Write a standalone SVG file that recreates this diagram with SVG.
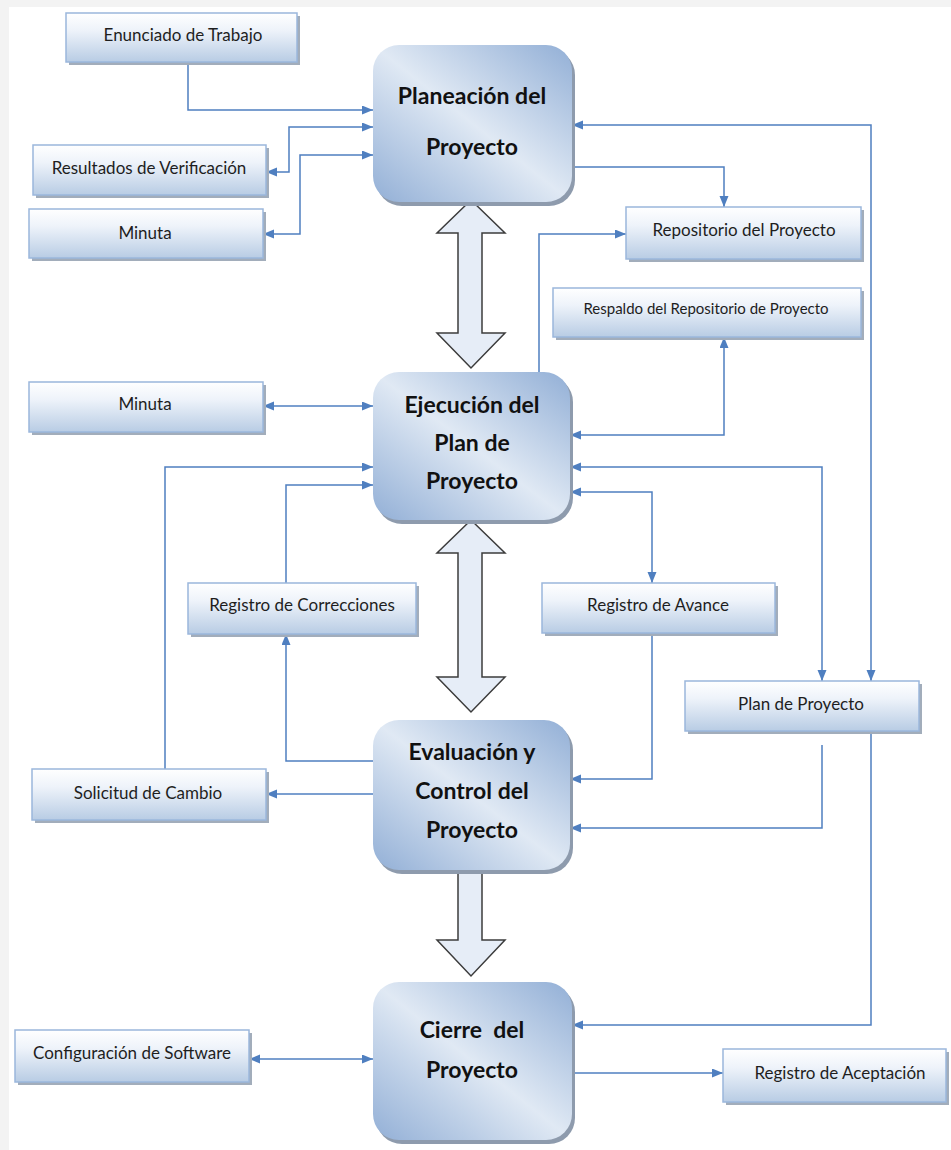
<svg xmlns="http://www.w3.org/2000/svg" width="951" height="1150" viewBox="0 0 951 1150">
<defs>
<linearGradient id="gSmall" x1="0" y1="0" x2="0" y2="1">
<stop offset="0" stop-color="#ffffff"/>
<stop offset="0.35" stop-color="#eef3fa"/>
<stop offset="1" stop-color="#b8cce4"/>
</linearGradient>
<linearGradient id="gBig" x1="1" y1="0" x2="0" y2="1">
<stop offset="0" stop-color="#92afd6"/>
<stop offset="0.5" stop-color="#e0e9f4"/>
<stop offset="1" stop-color="#92afd6"/>
</linearGradient>
<marker id="ar" markerUnits="userSpaceOnUse" markerWidth="12" markerHeight="10" refX="11" refY="4.5" orient="auto-start-reverse">
<path d="M0,0 L11,4.5 L0,9 z" fill="#4f7fc0"/>
</marker>
</defs>
<style>
.sm{fill:url(#gSmall);stroke:#9bb7dc;stroke-width:1.5}
.sh{fill:#a2adbb}
.big{fill:url(#gBig);stroke:none}
.bsh{fill:#8e9bad}
.st{font-family:Lato,"Open Sans",sans-serif;font-size:17px;fill:#1e1e1e;text-anchor:middle}
.bt{font-family:Lato,"Open Sans",sans-serif;font-size:23px;font-weight:bold;fill:#111;text-anchor:middle}
.c path{fill:none;stroke:#4f7fc0;stroke-width:1.5}
.blk{fill:#e6edf7;stroke:#3c3c3c;stroke-width:1.5;stroke-linejoin:miter}
</style>
<rect x="0" y="0" width="951" height="1150" fill="#f3f3f3"/>
<rect x="9" y="7" width="942" height="1143" fill="#ffffff"/>

<g id="blockArrows">
<polygon class="blk" points="471,200 505,233 482,233 482,333 505,333 471,368 437,333 458,333 458,233 437,233"/>
<polygon class="blk" points="471,520 505,553 482,553 482,677 505,677 471,712 437,677 458,677 458,553 437,553"/>
<polygon class="blk" points="458,866 482,866 482,940 505,940 471,976 437,940 458,940"/>
</g>

<g class="c" id="connectors">
<path d="M188,62 V110 H373" marker-end="url(#ar)"/>
<path d="M266,172 H289 V127 H373" marker-start="url(#ar)" marker-end="url(#ar)"/>
<path d="M263,234 H300 V155 H373" marker-start="url(#ar)" marker-end="url(#ar)"/>
<path d="M572,125 H871 V681" marker-start="url(#ar)" marker-end="url(#ar)"/>
<path d="M572,167 H724 V207" marker-end="url(#ar)"/>
<path d="M539,372 V234 H626" marker-end="url(#ar)"/>
<path d="M570,435 H724 V337" marker-start="url(#ar)" marker-end="url(#ar)"/>
<path d="M263,406 H373" marker-start="url(#ar)" marker-end="url(#ar)"/>
<path d="M165,769 V467 H373" marker-end="url(#ar)"/>
<path d="M286,583 V485 H373" marker-end="url(#ar)"/>
<path d="M373,761 H286 V634" marker-end="url(#ar)"/>
<path d="M570,467 H822 V681" marker-start="url(#ar)" marker-end="url(#ar)"/>
<path d="M570,492 H652 V583" marker-start="url(#ar)" marker-end="url(#ar)"/>
<path d="M652,633 V779 H570" marker-end="url(#ar)"/>
<path d="M822,745 V828 H570" marker-end="url(#ar)"/>
<path d="M871,731 V1025 H572" marker-end="url(#ar)"/>
<path d="M373,794 H266" marker-end="url(#ar)"/>
<path d="M249,1059 H373" marker-start="url(#ar)" marker-end="url(#ar)"/>
<path d="M572,1073 H723" marker-end="url(#ar)"/>
</g>

<g id="planeacion">
<rect class="bsh" x="376" y="49" width="199" height="157" rx="26"/>
<rect class="big" x="373" y="45" width="199" height="157" rx="26"/>
<text class="bt" x="472" y="104">Planeación del</text>
<text class="bt" x="472" y="155">Proyecto</text>
</g>
<g id="ejecucion">
<rect class="bsh" x="376" y="376" width="197" height="148" rx="26"/>
<rect class="big" x="373" y="372" width="197" height="148" rx="26"/>
<text class="bt" x="472" y="413">Ejecución del</text>
<text class="bt" x="472" y="451">Plan de</text>
<text class="bt" x="472" y="489">Proyecto</text>
</g>
<g id="evaluacion">
<rect class="bsh" x="376" y="724" width="197" height="150" rx="26"/>
<rect class="big" x="373" y="720" width="197" height="150" rx="26"/>
<text class="bt" x="472" y="760">Evaluación y</text>
<text class="bt" x="472" y="799">Control del</text>
<text class="bt" x="472" y="838">Proyecto</text>
</g>
<g id="cierre">
<rect class="bsh" x="376" y="986" width="199" height="158" rx="26"/>
<rect class="big" x="373" y="982" width="199" height="158" rx="26"/>
<text class="bt" x="472" y="1038" xml:space="preserve">Cierre  del</text>
<text class="bt" x="472" y="1078">Proyecto</text>
</g>

<g id="enunciado">
<rect class="sh" x="69" y="16" width="231" height="49"/>
<rect class="sm" x="66" y="13" width="231" height="49"/>
<text class="st" x="183" y="41">Enunciado de Trabajo</text>
</g>
<g id="resultados">
<rect class="sh" x="36" y="148" width="233" height="50"/>
<rect class="sm" x="33" y="145" width="233" height="50"/>
<text class="st" x="149" y="174">Resultados de Verificación</text>
</g>
<g id="minuta1">
<rect class="sh" x="32" y="212" width="234" height="49"/>
<rect class="sm" x="29" y="209" width="234" height="49"/>
<text class="st" x="145" y="239">Minuta</text>
</g>
<g id="repositorio">
<rect class="sh" x="629" y="210" width="235" height="52"/>
<rect class="sm" x="626" y="207" width="235" height="52"/>
<text class="st" x="744" y="236">Repositorio del Proyecto</text>
</g>
<g id="respaldo">
<rect class="sh" x="556" y="291" width="308" height="49"/>
<rect class="sm" x="553" y="288" width="308" height="49"/>
<text class="st" x="706" y="314" style="font-size:15px">Respaldo del Repositorio de Proyecto</text>
</g>
<g id="minuta2">
<rect class="sh" x="32" y="385" width="234" height="50"/>
<rect class="sm" x="29" y="382" width="234" height="50"/>
<text class="st" x="145" y="410">Minuta</text>
</g>
<g id="correcciones">
<rect class="sh" x="191" y="586" width="228" height="51"/>
<rect class="sm" x="188" y="583" width="228" height="51"/>
<text class="st" x="302" y="611">Registro de Correcciones</text>
</g>
<g id="avance">
<rect class="sh" x="545" y="586" width="233" height="50"/>
<rect class="sm" x="542" y="583" width="233" height="50"/>
<text class="st" x="658" y="611">Registro de Avance</text>
</g>
<g id="planProyecto">
<rect class="sh" x="688" y="684" width="234" height="50"/>
<rect class="sm" x="685" y="681" width="234" height="50"/>
<text class="st" x="801" y="710">Plan de Proyecto</text>
</g>
<g id="solicitud">
<rect class="sh" x="35" y="772" width="234" height="51"/>
<rect class="sm" x="32" y="769" width="234" height="51"/>
<text class="st" x="148" y="799">Solicitud de Cambio</text>
</g>
<g id="configuracion">
<rect class="sh" x="18" y="1033" width="234" height="52"/>
<rect class="sm" x="15" y="1030" width="234" height="52"/>
<text class="st" x="132" y="1059">Configuración de Software</text>
</g>
<g id="aceptacion">
<rect class="sh" x="726" y="1052" width="223" height="53"/>
<rect class="sm" x="723" y="1049" width="223" height="53"/>
<text class="st" x="840" y="1079">Registro de Aceptación</text>
</g>
</svg>
